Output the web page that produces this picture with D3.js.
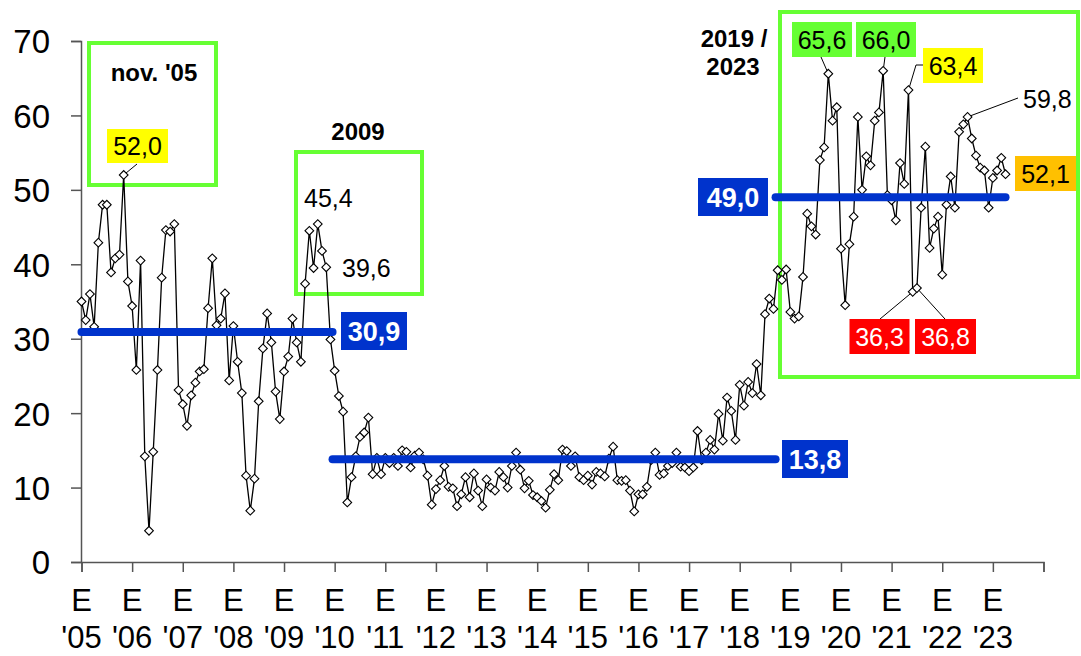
<!DOCTYPE html>
<html><head><meta charset="utf-8">
<script src="https://cdn.jsdelivr.net/npm/d3@7"></script>
<style>
body{margin:0;background:#fff}
svg{display:block}
text{font-family:"Liberation Sans",Arial,sans-serif}
</style>
</head><body>
<svg id="c" width="1081" height="656"></svg>
<script>
// ---------- data ----------
const yearLabels = ["'05","'06","'07","'08","'09","'10","'11","'12","'13","'14","'15","'16","'17","'18","'19","'20","'21","'22","'23"];
const monthPrefix = "E";
const yTicks = [0,10,20,30,40,50,60,70];
const values2005 = [35.0,32.5,36.0,31.6,42.9,48.0,48.0,38.9,40.8,41.3,52.0,37.7];
const values2006 = [34.4,25.8,40.5,14.2,4.2,14.8,25.8,38.2,44.6,44.4,45.4,23.1];
const values2007 = [21.2,18.3,22.4,24.1,25.6,25.9,34.1,40.8,31.8,32.7,36.1,24.4];
const values2008 = [31.7,26.9,22.7,11.6,6.9,11.2,21.6,28.7,33.4,29.5,22.9,19.2];
const values2009 = [25.6,27.6,32.7,29.5,26.9,37.4,44.5,39.5,45.4,41.8,39.6,29.9];
const values2010 = [25.7,22.3,20.2,8.0,11.4,14.2,16.8,17.4,19.4,11.8,14.0,11.8];
const values2011 = [14.0,13.3,14.0,12.9,15.0,14.8,12.7,14.3,14.7,13.8,11.6,7.7];
const values2012 = [9.8,11.0,12.9,10.1,9.9,7.5,9.1,11.4,8.7,11.9,9.6,7.5];
const values2013 = [11.1,10.0,9.6,12.1,11.4,10.0,12.9,14.7,12.4,9.9,10.9,9.0];
const values2014 = [8.7,8.2,7.3,9.7,11.8,11.0,15.1,14.9,12.9,14.2,11.4,11.0];
const values2015 = [11.6,10.4,12.1,11.9,11.5,13.9,15.5,11.0,10.9,11.0,9.6,6.8];
const values2016 = [9.1,9.1,10.1,13.7,14.7,11.7,11.9,12.9,13.3,14.7,12.8,12.7];
const values2017 = [12.2,12.7,17.6,13.7,14.7,16.4,15.1,19.9,16.3,22.1,20.3,16.4];
const values2018 = [23.8,21.0,24.2,22.7,26.6,22.4,33.3,35.4,34.0,39.2,37.9,39.3];
const values2019 = [33.6,32.7,33.0,38.3,46.8,45.1,44.0,54.0,55.7,65.6,59.3,61.1];
const values2020 = [42.1,34.5,42.7,46.4,59.8,50.0,54.5,53.3,59.3,60.4,66.0,49.3];
const values2021 = [48.6,45.9,53.6,50.8,63.4,36.3,36.8,47.6,55.8,42.2,44.8,46.4];
const values2022 = [38.6,48.0,51.8,47.6,57.8,58.8,59.8,56.9,54.6,53.0,52.6,47.6];
const values2023 = [51.6,52.6,54.3,52.1];
const averageValues = [30.9, 13.8, 49.0];
const averageStart = [0, 59.5, 164.5];   // month index
const averageEnd   = [59.5, 164.5, 219];

const values = [].concat(values2005,values2006,values2007,values2008,values2009,values2010,
  values2011,values2012,values2013,values2014,values2015,values2016,values2017,values2018,
  values2019,values2020,values2021,values2022,values2023);

// ---------- scales ----------
const svg = d3.select("#c");
const x = d3.scaleLinear().domain([0, 228]).range([81.5, 1043.5]);
const y = d3.scaleLinear().domain([0, 70]).range([562, 41]);
const BLUE = "#0033cc", GREEN = "#66ff33", YELLOW = "#ffff00", ORANGE = "#ffc000", RED = "#ff0000";

// ---------- green highlight boxes ----------
const gBoxes = [[89,43,127,142],[296,152,126,142],[780,12,298,365]];
svg.selectAll("rect.gb").data(gBoxes).enter().append("rect")
  .attr("x",d=>d[0]).attr("y",d=>d[1]).attr("width",d=>d[2]).attr("height",d=>d[3])
  .attr("fill","none").attr("stroke",GREEN).attr("stroke-width",4);

// ---------- axes ----------
const yAxis = svg.append("g").attr("transform","translate(81,0)")
  .call(d3.axisLeft(y).tickValues(yTicks).tickSize(10).tickPadding(0).tickFormat(d3.format("d")));
yAxis.select(".domain").attr("stroke","#555").attr("stroke-width",1.5);
yAxis.selectAll(".tick line").attr("stroke","#555").attr("stroke-width",1.5);
yAxis.selectAll(".tick text").attr("x",-31).attr("dy","0.36em").attr("font-size",33)
  .attr("font-family","Liberation Sans, Arial, sans-serif").attr("fill","#000");

const xTickVals = d3.range(0, 229, 12);
const xAxis = svg.append("g").attr("transform","translate(0,562)")
  .call(d3.axisBottom(x).tickValues(xTickVals).tickSize(10).tickFormat(""));
xAxis.select(".domain").attr("stroke","#555").attr("stroke-width",1.5);
xAxis.selectAll(".tick line").attr("stroke","#555").attr("stroke-width",1.5);

const xl = svg.append("g");
xl.selectAll("text.e").data(yearLabels).enter().append("text")
  .attr("x",(d,i)=>x(i*12)).attr("y",611).attr("text-anchor","middle")
  .attr("font-size",31).text(monthPrefix);
xl.selectAll("text.yr").data(yearLabels).enter().append("text")
  .attr("x",(d,i)=>x(i*12)).attr("y",648).attr("text-anchor","middle")
  .attr("font-size",31).text(d=>d);

// ---------- data line ----------
svg.append("path").datum(values)
  .attr("fill","none").attr("stroke","#000").attr("stroke-width",1.3)
  .attr("d", d3.line().x((d,i)=>x(i)).y(d=>y(d)));

// ---------- leader lines ----------
const leaders = [
  [10, [[137,164]]],
  [177,[[821,57]]],
  [190,[[885,57]]],
  [196,[[916,65],[923,65]]],
  [210,[[1018,98]]],
  [197,[[880,319]]],
  [198,[[945,319]]]
];
leaders.forEach(([i,pts])=>{
  const p = [[x(i),y(values[i])]].concat(pts);
  svg.append("path").attr("d", d3.line()(p)).attr("fill","none").attr("stroke","#000").attr("stroke-width",1);
});

// ---------- markers ----------
svg.selectAll("path.m").data(values).enter().append("path")
  .attr("d", d3.symbol().type(d3.symbolSquare).size(38))
  .attr("transform",(d,i)=>`translate(${x(i)},${y(d)}) rotate(45)`)
  .attr("fill","#fff").attr("stroke","#000").attr("stroke-width",1.1);

// ---------- average lines ----------
averageValues.forEach((v,k)=>{
  svg.append("line").attr("x1",x(averageStart[k])).attr("x2",x(averageEnd[k]))
    .attr("y1",y(v)).attr("y2",y(v)).attr("stroke",BLUE).attr("stroke-width",8).attr("stroke-linecap","round");
});
const fmt = v => d3.format(".1f")(v).replace(".", ",");

function boxLabel(cx, top, w, h, fill, txt, color, bold, fs){
  svg.append("rect").attr("x",cx-w/2).attr("y",top).attr("width",w).attr("height",h).attr("fill",fill);
  svg.append("text").attr("x",cx).attr("y",top+h/2).attr("dy","0.36em").attr("text-anchor","middle")
    .attr("font-size",fs).attr("font-weight",bold?"bold":"normal").attr("fill",color).text(txt);
}
// averages
boxLabel(374, 312, 66, 38, BLUE, fmt(averageValues[0]), "#fff", true, 27);
boxLabel(815, 440, 66, 38, BLUE, fmt(averageValues[1]), "#fff", true, 27);
boxLabel(733, 178, 70, 38, BLUE, fmt(averageValues[2]), "#fff", true, 27);

// point labels
boxLabel(137.5, 129, 61, 34, YELLOW, fmt(values[10]), "#000", false, 25);
boxLabel(822, 22, 60, 35, GREEN, fmt(values[177]), "#000", false, 25);
boxLabel(886, 22, 60, 35, GREEN, fmt(values[190]), "#000", false, 25);
boxLabel(953, 48, 60, 35, YELLOW, fmt(values[196]), "#000", false, 25);
boxLabel(1045.5, 156, 61, 35, ORANGE, fmt(values[219]), "#000", false, 25);
boxLabel(879.5, 319, 60, 35, RED, fmt(values[197]), "#fff", false, 25);
boxLabel(945.5, 319, 61, 35, RED, fmt(values[198]), "#fff", false, 25);

function plain(xx, yy, txt, anchor, fs, bold){
  svg.append("text").attr("x",xx).attr("y",yy).attr("text-anchor",anchor||"start")
    .attr("font-size",fs||25).attr("font-weight",bold?"bold":"normal").attr("fill","#000").text(txt);
}
plain(304, 207, fmt(values[56]));
plain(342, 277, fmt(values[58]));
plain(1023, 108, fmt(values[210]));

plain(154, 81, "nov. '05", "middle", 24, true);
plain(358, 140, "2009", "middle", 24, true);
plain(734, 47, "2019 /", "middle", 24, true);
plain(733, 75, "2023", "middle", 24, true);
</script>
</body></html>
